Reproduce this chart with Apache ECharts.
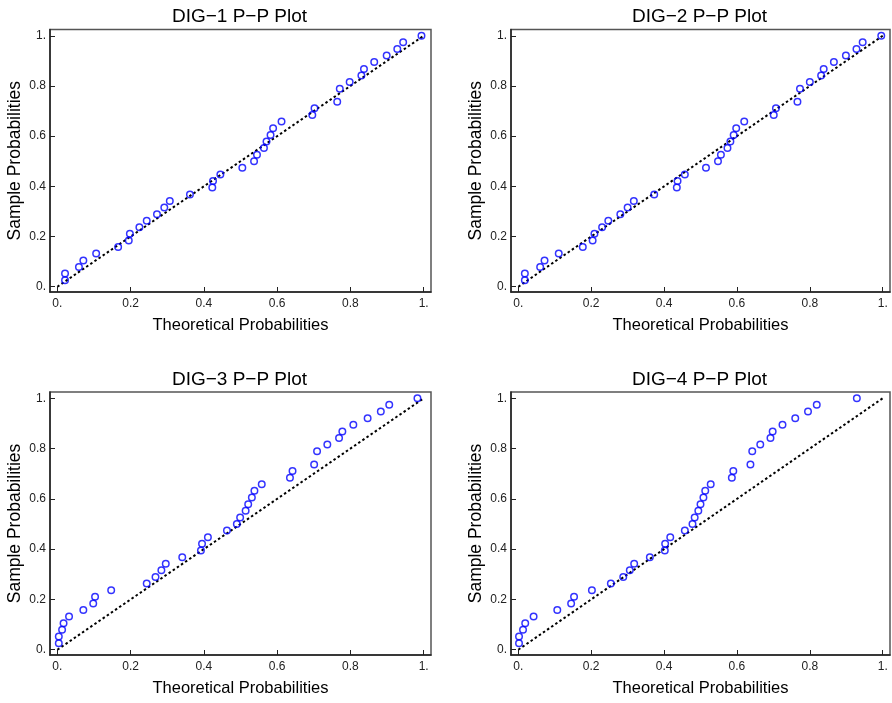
<!DOCTYPE html>
<html>
<head>
<meta charset="utf-8">
<title>DIG P-P Plots</title>
<script src="https://cdn.jsdelivr.net/npm/echarts@6.0.0/dist/echarts.min.js"></script>
<style>
  html, body { margin: 0; padding: 0; background: #fff; }
  #chart { width: 892px; height: 703px; }
</style>
</head>
<body>
<div id="chart"></div>
<script>
  // sample probabilities, same ranks in all four panels (29/38 level is a tie)
  var sampleProb = [0.026, 0.053, 0.079, 0.105, 0.132, 0.158, 0.184, 0.211, 0.237, 0.263,
    0.289, 0.316, 0.342, 0.368, 0.395, 0.421, 0.447, 0.474, 0.5, 0.526,
    0.553, 0.579, 0.605, 0.632, 0.658, 0.684, 0.711, 0.737, 0.789, 0.816,
    0.842, 0.868, 0.895, 0.921, 0.947, 0.974, 1.0];

  // theoretical probabilities
  var dig1Theo = [0.021, 0.021, 0.059, 0.071, 0.106, 0.166, 0.195, 0.198, 0.224, 0.244,
    0.272, 0.292, 0.307, 0.362, 0.423, 0.425, 0.445, 0.505, 0.537, 0.545,
    0.564, 0.571, 0.582, 0.589, 0.612, 0.696, 0.702, 0.764, 0.771, 0.798,
    0.830, 0.837, 0.865, 0.899, 0.928, 0.944, 0.994];
  var dig2Theo = [0.018, 0.018, 0.060, 0.072, 0.111, 0.177, 0.204, 0.209, 0.230, 0.247,
    0.280, 0.300, 0.317, 0.373, 0.435, 0.437, 0.457, 0.515, 0.548, 0.556,
    0.574, 0.582, 0.591, 0.598, 0.620, 0.701, 0.707, 0.766, 0.773, 0.800,
    0.831, 0.838, 0.866, 0.899, 0.928, 0.945, 0.996];
  var dig3Theo = [0.004, 0.004, 0.013, 0.017, 0.032, 0.071, 0.098, 0.103, 0.147, 0.244,
    0.268, 0.284, 0.296, 0.341, 0.392, 0.395, 0.411, 0.463, 0.490, 0.499,
    0.514, 0.521, 0.531, 0.538, 0.558, 0.635, 0.642, 0.701, 0.709, 0.737,
    0.769, 0.778, 0.808, 0.847, 0.883, 0.906, 0.983];
  var dig4Theo = [0.002, 0.002, 0.013, 0.019, 0.042, 0.107, 0.145, 0.153, 0.202, 0.254,
    0.288, 0.306, 0.318, 0.361, 0.402, 0.403, 0.417, 0.457, 0.478, 0.484,
    0.494, 0.500, 0.508, 0.513, 0.528, 0.586, 0.590, 0.637, 0.642, 0.664,
    0.692, 0.698, 0.725, 0.760, 0.795, 0.819, 0.929];

  var panelTitles = ['DIG\u22121 P\u2212P Plot', 'DIG\u22122 P\u2212P Plot',
    'DIG\u22123 P\u2212P Plot', 'DIG\u22124 P\u2212P Plot'];
  var tickValues = [0, 0.2, 0.4, 0.6, 0.8, 1];
  var refLine = [[0, 0], [1, 1]];

  var font = 'Liberation Sans, Arial, sans-serif';
  var panels = [
    {left: 50, top: 29.5, width: 381, height: 262.5, theo: dig1Theo},
    {left: 511, top: 29.5, width: 379, height: 262.5, theo: dig2Theo},
    {left: 50, top: 392, width: 381, height: 263, theo: dig3Theo},
    {left: 511, top: 392, width: 379, height: 263, theo: dig4Theo}
  ];

  function tickFmt(v) {
    if (v === 0) return '0.';
    if (v === 1) return '1.';
    return v.toFixed(1);
  }

  var grids = [], xAxes = [], yAxes = [], series = [], titles = [];
  panels.forEach(function (p, i) {
    grids.push({
      left: p.left, top: p.top, width: p.width, height: p.height,
      show: true, borderColor: '#555', borderWidth: 1.5
    });
    var axisCommon = {
      type: 'value',
      gridIndex: i,
      nameLocation: 'middle',
      axisLine: {show: true, onZero: false, lineStyle: {color: '#222', width: 1.5}},
      axisTick: {show: true, inside: true, length: 5, customValues: tickValues,
        lineStyle: {color: '#222', width: 1}},
      axisLabel: {customValues: tickValues, formatter: tickFmt, fontSize: 12,
        color: '#222', fontFamily: font},
      splitLine: {show: false}
    };
    xAxes.push(Object.assign({}, axisCommon, {
      min: -0.02, max: 1.02,
      name: 'Theoretical Probabilities', nameGap: 25,
      nameTextStyle: {fontSize: 16.5, color: '#000', fontFamily: font},
      axisLabel: Object.assign({}, axisCommon.axisLabel, {margin: 6})
    }));
    yAxes.push(Object.assign({}, axisCommon, {
      min: -0.021, max: 1.025,
      name: 'Sample Probabilities', nameGap: 26,
      nameTextStyle: {fontSize: 17.5, color: '#000', fontFamily: font},
      axisLabel: Object.assign({}, axisCommon.axisLabel, {margin: 4})
    }));
    titles.push({
      text: panelTitles[i],
      left: p.left + p.width / 2 - 1,
      top: p.top - 22,
      padding: 0,
      textAlign: 'center',
      textStyle: {fontSize: 19, fontWeight: 'normal', color: '#000', fontFamily: font}
    });
    series.push({
      type: 'line',
      xAxisIndex: i, yAxisIndex: i,
      data: refLine,
      symbol: 'none',
      silent: true,
      lineStyle: {color: '#000', width: 2, type: [2.5, 2.5]},
      z: 2
    });
    series.push({
      type: 'scatter',
      xAxisIndex: i, yAxisIndex: i,
      data: sampleProb.map(function (y, k) { return [p.theo[k], y]; }),
      symbol: 'circle',
      symbolSize: 6.5,
      itemStyle: {color: 'rgba(0,0,0,0)', borderColor: '#0000ff', borderWidth: 1.5},
      z: 3
    });
  });

  var chart = echarts.init(document.getElementById('chart'));
  chart.setOption({
    backgroundColor: '#fff',
    animation: false,
    title: titles,
    grid: grids,
    xAxis: xAxes,
    yAxis: yAxes,
    series: series
  });
</script>
</body>
</html>
